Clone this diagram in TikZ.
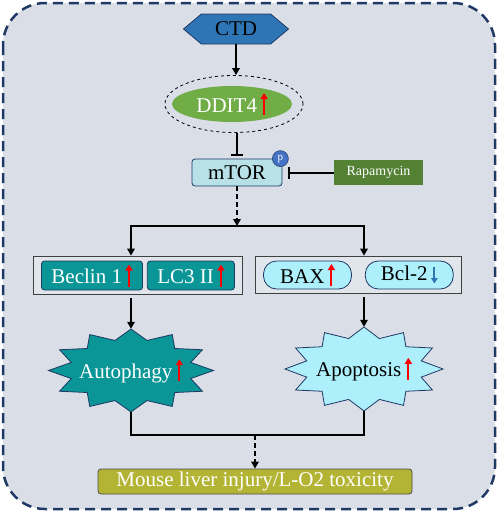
\documentclass[tikz,border=0pt]{standalone}
\usepackage{fontspec}
\setmainfont{Liberation Serif}
\usetikzlibrary{positioning,arrows.meta,shapes.geometric,shapes.symbols,fit,backgrounds}

\definecolor{bgcol}{HTML}{D9DEE7}
\definecolor{navy}{HTML}{1F3864}
\definecolor{ctdblue}{HTML}{2E75B6}
\definecolor{dditgreen}{HTML}{70AD47}
\definecolor{mtorcyan}{HTML}{B7E1E6}
\definecolor{pblue}{HTML}{4472C4}
\definecolor{rapagreen}{HTML}{548235}
\definecolor{tealbox}{HTML}{0A9696}
\definecolor{skybox}{HTML}{AEEFFC}
\definecolor{olivebox}{HTML}{B3B434}
\definecolor{downblue}{HTML}{2E75B6}

% small up / down marks after the gene names
\newcommand\uparr{\,\tikz[baseline=0pt]\draw[red,line width=2pt,-{Triangle[length=6pt,width=7pt]}] (0pt,-3pt) -- (0pt,19pt);}
\newcommand\downarr{\,\tikz[baseline=0pt]\draw[downblue,line width=1.8pt,-{Triangle[length=5.5pt,width=6.5pt]}] (0pt,14pt) -- (0pt,-3pt);}
% 12 point seal behind a node: node, fill, x radius, y radius
\newcommand\seal[4]{%
  \begin{scope}[on background layer,shift={(#1.center)}]
  \filldraw[fill=#2,draw=navy,line width=0.8pt] plot[samples at={0,...,23},variable=\k]
    ({ifthenelse(mod(\k,2)==0,#3,0.75*#3)*cos(90+15*\k)},{ifthenelse(mod(\k,2)==0,#4,0.75*#4)*sin(90+15*\k)}) -- cycle;
  \end{scope}}

\begin{document}
\begin{tikzpicture}[x=1pt,y=-1pt,
    every node/.style={font=\fontsize{21}{24}\selectfont, inner sep=2pt},
    >={Triangle[length=7pt,width=7.5pt]},
    arr/.style={->,line width=1.6pt},
    dasharr/.style={->,line width=1.6pt,dash pattern=on 5pt off 3pt},
    inh/.style={-{Bar[width=12pt]},line width=2pt},
    lnk/.style={line width=1.6pt},
    geneteal/.style={draw=navy,line width=0.8pt,fill=tealbox,text=white,
        rounded corners=3pt,minimum height=29pt,inner xsep=10pt},
    genesky/.style={draw=navy,line width=0.8pt,fill=skybox,
        rounded corners=13pt,minimum height=28pt,minimum width=88pt},
    grpbox/.style={draw=black!75,line width=1pt,fill=bgcol!80!white,
        inner xsep=8pt,inner ysep=4.5pt},
]
\useasboundingbox (0,0) rectangle (498,512);
\begin{scope}[on background layer]
\draw[navy,fill=bgcol,line width=2.5pt,dash pattern=on 10pt off 6pt,rounded corners=42pt]
    (3,3) rectangle (495,509);
\end{scope}

\node[signal,signal to=west and east,signal pointer angle=80,draw=navy,fill=ctdblue,
    line width=0.8pt,minimum width=105pt,minimum height=30pt] (ctd) at (236,29) {CTD};
\node[ellipse,draw,dashed,line width=0.8pt,minimum width=138pt,minimum height=57pt] (ring) at (234,104) {};
\node[ellipse,fill=dditgreen,text=white,minimum width=120pt,minimum height=36pt,inner sep=0pt]
    (ddit) at (232,104) {DDIT4\uparr};
\node[draw=navy,fill=mtorcyan,rounded corners=3pt,line width=0.8pt,
    minimum width=90pt,minimum height=27pt] (mtor) at (237,172.5) {mTOR};
\node[circle,fill=pblue,draw=navy,line width=0.5pt,inner sep=0pt,minimum size=16pt,
    text=white,font=\fontsize{11}{12}\selectfont] (p) at ([xshift=-2pt]mtor.north east) {p};
\node[fill=rapagreen,text=white,minimum width=89pt,minimum height=25pt,
    font=\fontsize{14}{16}\selectfont] (rapa) at (378.5,172.5) {Rapamycin};

% gene boxes
\node[geneteal] (beclin) at (92,275.5) {Beclin 1\uparr};
\node[geneteal,right=4pt of beclin] (lc3) {LC3 II\uparr};
\node[genesky] (bax) at (307.5,275) {BAX\uparr};
\node[genesky,right=13pt of bax] (bcl) {Bcl-2\downarr};
\begin{scope}[on background layer]
\node[grpbox,fit=(beclin)(lc3)] (lgrp) {};
\node[grpbox,fit=(bax)(bcl)] (rgrp) {};
\end{scope}

% outcomes
\node[minimum width=165pt,minimum height=83pt,inner sep=0pt,text=white] (auto) at (131,370.5) {Autophagy\uparr};
\seal{auto}{tealbox}{82.5}{41.5}
\node[minimum width=158pt,minimum height=84pt,inner sep=0pt] (apop) at (364,369) {Apoptosis\uparr};
\seal{apop}{skybox}{79}{42}
\node[fill=olivebox,draw=black!70,line width=0.8pt,rounded corners=3pt,text=white,
    minimum width=314pt,minimum height=25pt,inner sep=0pt] (liver) at (255,481.5)
    {Mouse liver injury/L-O2 toxicity};

\coordinate (split) at (237,226);
\coordinate (merge) at (255,435);
\draw[arr] (ctd.south) -- (ctd.south |- ring.north);
\draw[inh,shorten >=3pt] (mtor.north |- ring.south) -- (mtor.north);
\draw[inh,shorten >=6pt] (rapa.west) -- (mtor.east);
\draw[dasharr] (mtor.south) -- (split);
\draw[arr] (split) -| (lgrp.north -| auto);
\draw[arr] (split) -| (rgrp.north -| apop);
\draw[arr,shorten <=3pt] (lgrp.south -| auto) -- (auto.north);
\draw[arr,shorten <=3pt] (rgrp.south -| apop) -- (apop.north);
\draw[lnk] (auto.south) |- (merge) -| (apop.south);
\draw[dasharr] (merge) -- (liver.north);
\end{tikzpicture}
\end{document}
